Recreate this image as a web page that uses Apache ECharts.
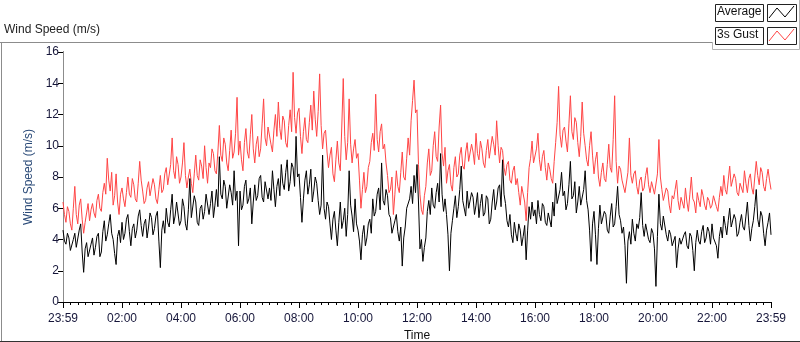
<!DOCTYPE html>
<html>
<head>
<meta charset="utf-8">
<script src="https://cdn.jsdelivr.net/npm/echarts@6/dist/echarts.min.js"></script>
<style>
  html, body { margin: 0; padding: 0; background: #fff; }
  #chart { width: 800px; height: 342px; }
</style>
</head>
<body>
<div id="chart"></div>
<script>
// samples every 3 minutes, from 23:59 to 23:59 next day (one row = one hour)
var stepMinutes = 3

// average wind speed (m/s)
var avgSpeed = [
  4.6, 3.9, 3.7, 4.4, 4.1, 3.3, 3.4, 4.0, 4.4, 3.5, 3.6, 4.6, 5.0, 3.2, 1.9, 3.4, 3.8, 2.9, 3.0, 3.7,
  4.1, 3.0, 3.5, 4.2, 4.4, 2.9, 3.2, 4.5, 5.2, 3.9, 4.3, 5.0, 5.6, 4.4, 4.0, 3.1, 2.4, 4.2, 4.6, 3.8,
  5.1, 4.0, 4.4, 5.3, 5.6, 4.5, 3.6, 4.7, 5.0, 4.1, 4.6, 5.5, 5.9, 4.9, 4.2, 5.0, 5.3, 4.1, 4.8, 5.7,
  5.4, 4.3, 4.7, 5.5, 5.8, 3.9, 2.2, 4.6, 5.2, 4.4, 6.0, 5.1, 4.8, 5.9, 6.9, 5.0, 5.5, 6.4, 6.3, 4.9,
  5.2, 6.6, 6.1, 5.0, 4.6, 5.9, 7.9, 5.4, 5.5, 6.8, 6.4, 5.1, 4.9, 6.0, 6.2, 5.3, 5.8, 6.9, 7.0, 5.6,
  6.3, 7.1, 5.4, 6.2, 7.2, 6.1, 9.3, 6.9, 6.6, 7.8, 7.4, 6.0, 5.9, 7.5, 7.0, 6.2, 8.4, 6.5, 7.1, 3.6,
  7.1, 5.9, 6.2, 7.4, 7.8, 6.3, 6.6, 7.3, 5.0, 6.4, 7.5, 6.5, 6.8, 7.9, 8.1, 6.7, 6.4, 7.7, 7.6, 6.6,
  7.3, 6.5, 8.4, 7.2, 6.1, 7.4, 7.9, 6.8, 8.8, 7.6, 7.2, 8.3, 9.1, 7.1, 7.7, 8.9, 8.6, 7.4, 10.6, 8.0,
  8.2, 6.7, 5.1, 6.6, 7.8, 8.4, 6.9, 7.5, 8.5, 6.4, 7.1, 8.0, 7.6, 6.5, 5.6, 6.2, 9.4, 6.0, 5.3, 6.4,
  6.1, 5.0, 4.0, 5.3, 5.8, 4.6, 3.6, 5.1, 6.4, 4.7, 5.2, 6.0, 4.2, 5.6, 8.4, 6.2, 5.5, 4.5, 6.6, 5.0,
  4.6, 3.9, 2.7, 4.3, 4.9, 3.6, 4.1, 5.0, 5.3, 4.4, 6.6, 5.5, 5.8, 6.9, 7.3, 5.9, 8.9, 6.5, 6.2, 7.2,
  6.8, 5.6, 5.4, 4.4, 4.3, 5.2, 5.6, 4.5, 3.9, 4.8, 2.3, 4.1, 4.8, 6.0, 5.9, 6.6, 7.4, 6.3, 8.1, 7.0,
  8.8, 6.4, 3.4, 4.0, 2.6, 3.5, 4.1, 5.8, 6.5, 5.6, 7.3, 6.2, 6.0, 7.0, 7.6, 6.4, 9.5, 6.9, 5.8, 6.6,
  5.6, 4.3, 2.0, 4.4, 5.2, 6.0, 6.8, 5.4, 6.1, 7.2, 8.7, 6.5, 6.4, 5.5, 7.1, 6.0, 5.9, 7.0, 6.7, 5.6,
  6.2, 7.0, 5.4, 6.3, 6.9, 5.5, 5.7, 6.8, 6.6, 5.0, 5.3, 6.4, 7.2, 5.9, 6.4, 7.3, 7.5, 6.1, 9.1, 6.9,
  6.3, 5.2, 4.8, 5.6, 4.3, 3.8, 5.1, 4.4, 3.9, 5.0, 4.6, 3.6, 4.2, 4.9, 2.7, 4.6, 6.1, 5.3, 6.4, 5.5,
  5.9, 5.0, 6.5, 5.6, 5.2, 6.3, 6.1, 5.1, 4.9, 5.7, 5.8, 4.8, 6.4, 5.5, 7.6, 6.3, 6.2, 7.2, 8.3, 6.8,
  7.1, 5.9, 6.3, 7.5, 9.0, 6.6, 6.8, 7.7, 5.7, 6.4, 7.4, 6.2, 6.1, 7.2, 8.4, 6.5, 5.9, 4.6, 2.6, 5.0,
  5.8, 4.3, 2.4, 4.7, 6.2, 5.0, 4.9, 5.8, 5.6, 4.6, 4.4, 5.5, 6.3, 4.8, 5.0, 6.1, 7.4, 5.6, 5.2, 4.4,
  4.8, 3.6, 1.2, 3.9, 4.5, 3.7, 5.3, 4.4, 3.9, 5.0, 4.7, 5.4, 7.0, 4.9, 4.2, 5.0, 5.1, 4.0, 3.8, 4.7,
  4.4, 3.4, 1.0, 4.2, 6.9, 5.0, 4.6, 5.5, 5.4, 4.3, 3.9, 4.6, 4.3, 3.6, 3.5, 4.2, 2.2, 3.4, 4.1, 3.7,
  3.8, 4.3, 4.5, 3.6, 3.4, 4.4, 4.2, 3.3, 2.0, 3.8, 4.6, 3.9, 3.7, 4.5, 4.9, 3.8, 4.1, 4.8, 4.5, 3.7,
  5.0, 4.1, 4.2, 3.6, 2.8, 4.2, 4.8, 4.1, 5.5, 4.9, 4.3, 5.2, 6.0, 4.8, 4.7, 5.6, 5.3, 4.2, 4.4, 5.1,
  5.6, 4.8, 4.6, 5.5, 6.4, 4.9, 3.9, 4.7, 5.2, 6.1, 7.2, 5.3, 4.8, 5.8, 5.5, 4.4, 3.6, 4.6, 5.1, 5.7,
  4.3
]

// 3 s gust (m/s)
var gustSpeed = [
  6.4, 5.6, 5.1, 6.1, 5.8, 5.0, 4.6, 6.0, 7.4, 5.6, 5.0, 6.2, 6.6, 5.3, 4.4, 5.1, 5.7, 6.3, 5.2, 5.9,
  6.3, 5.7, 5.4, 6.5, 6.9, 6.0, 5.8, 7.0, 7.6, 6.9, 9.2, 7.8, 7.1, 8.3, 6.2, 6.8, 8.2, 6.4, 5.6, 6.9,
  7.3, 6.6, 6.1, 7.0, 8.0, 6.9, 6.7, 7.9, 7.5, 6.6, 6.4, 7.6, 9.0, 7.8, 7.1, 6.3, 6.5, 7.3, 7.7, 6.8,
  6.8, 7.9, 7.5, 6.6, 6.3, 7.2, 8.1, 7.0, 7.2, 8.2, 8.6, 7.5, 7.4, 8.8, 10.5, 8.4, 7.9, 9.3, 8.8, 7.6,
  8.0, 8.9, 10.2, 8.1, 7.3, 8.0, 8.5, 7.6, 7.0, 8.2, 9.4, 8.1, 7.8, 9.1, 8.7, 7.9, 10.0, 8.6, 7.6, 8.9,
  8.6, 9.8, 9.5, 8.4, 8.2, 9.6, 11.3, 9.4, 9.0, 10.5, 10.1, 8.9, 8.4, 9.7, 11.0, 9.2, 9.6, 10.8, 13.1, 9.4,
  10.3, 9.1, 8.4, 10.2, 11.1, 9.6, 9.2, 10.7, 12.0, 9.8, 8.9, 10.1, 10.6, 9.3, 9.8, 11.4, 13.0, 10.5, 10.0, 11.2,
  11.2, 10.1, 9.6, 11.0, 12.0, 10.6, 12.8, 11.1, 10.4, 11.9, 11.6, 10.2, 9.9, 11.3, 12.3, 10.9, 14.7, 11.8, 10.8, 12.1,
  12.4, 10.6, 9.5, 10.9, 11.8, 10.4, 10.2, 11.5, 12.6, 11.0, 13.5, 11.7, 10.6, 12.2, 14.6, 11.3, 9.8, 10.8, 11.0, 9.6,
  8.6, 9.4, 9.9, 8.2, 7.7, 9.1, 10.3, 8.9, 8.4, 11.2, 14.3, 10.6, 9.1, 10.2, 13.0, 10.1, 8.9, 9.8, 10.4, 9.2,
  9.5, 7.8, 6.0, 7.2, 8.3, 7.0, 7.4, 8.6, 9.0, 10.2, 10.8, 9.7, 13.3, 10.4, 9.6, 10.9, 11.4, 9.8, 10.1, 8.9,
  8.1, 7.0, 7.2, 8.0, 5.6, 6.9, 8.4, 7.4, 7.0, 8.3, 9.6, 8.0, 7.8, 9.2, 10.5, 9.4, 11.6, 12.9, 14.2, 12.1,
  12.3, 8.8, 6.9, 5.9, 5.6, 6.8, 7.4, 8.9, 9.8, 8.1, 8.4, 10.0, 10.9, 9.3, 9.0, 11.2, 12.6, 9.5, 8.7, 9.9,
  7.6, 8.4, 8.8, 7.5, 7.1, 8.6, 9.3, 8.0, 8.2, 9.4, 9.9, 8.7, 8.5, 9.6, 10.2, 9.0, 8.9, 10.1, 9.6, 8.8,
  10.8, 9.5, 9.1, 10.3, 9.8, 8.9, 8.6, 9.7, 10.4, 9.2, 9.3, 10.6, 10.1, 9.4, 11.6, 10.0, 8.9, 9.9, 9.7, 8.6,
  8.1, 8.8, 9.0, 7.8, 7.6, 8.4, 8.7, 7.5, 7.9, 7.0, 6.2, 7.4, 7.3, 6.4, 5.2, 7.0, 8.6, 9.2, 10.3, 8.9,
  9.0, 9.8, 10.8, 9.1, 8.4, 9.3, 9.7, 8.6, 7.8, 8.9, 8.5, 7.9, 7.6, 9.0, 10.2, 11.5, 13.8, 10.7, 9.9, 11.0,
  11.2, 10.3, 9.6, 11.4, 13.2, 10.9, 10.4, 11.8, 11.5, 10.2, 9.3, 10.6, 12.8, 10.8, 10.0, 9.1, 8.7, 10.0, 10.9, 9.4,
  8.2, 9.1, 9.6, 8.0, 7.4, 8.3, 8.9, 7.9, 7.7, 8.8, 10.1, 8.6, 8.3, 10.4, 13.2, 9.0, 7.6, 8.7, 8.5, 7.8,
  7.9, 7.0, 7.1, 8.3, 10.5, 8.1, 7.6, 8.2, 8.4, 7.4, 6.9, 7.8, 8.0, 7.1, 7.3, 8.1, 8.6, 7.5, 7.0, 7.7,
  7.6, 6.9, 6.8, 8.2, 10.4, 8.0, 7.2, 6.5, 6.4, 7.3, 7.1, 6.2, 5.7, 6.8, 6.6, 7.2, 7.8, 6.5, 5.9, 6.7,
  6.6, 6.0, 7.3, 6.4, 5.8, 6.9, 8.0, 6.6, 6.4, 5.7, 7.0, 6.5, 6.1, 7.2, 6.8, 6.2, 5.9, 6.7, 6.5, 6.0,
  6.2, 6.8, 6.9, 6.1, 5.8, 6.7, 7.4, 6.8, 8.1, 7.2, 6.9, 7.8, 8.7, 7.4, 7.3, 8.2, 7.9, 7.0, 6.8, 7.6,
  7.7, 7.0, 8.4, 7.6, 7.0, 7.9, 8.2, 7.3, 6.9, 8.0, 9.0, 8.1, 7.5, 8.6, 8.3, 7.4, 7.1, 7.9, 8.5, 7.8,
  7.2
]

var timeTicks = ['23:59', '02:00', '04:00', '06:00', '08:00', '10:00', '12:00',
  '14:00', '16:00', '18:00', '20:00', '22:00', '23:59']

function toPairs(values) {
  return values.map(function (v, i) { return [i * stepMinutes, v] })
}

var labelColor = '#16163a'
var font = 'Liberation Sans, Arial, sans-serif'

var chart = echarts.init(document.getElementById('chart'), null, { renderer: 'canvas' })

var option = {
  animation: false,
  backgroundColor: '#fff',
  grid: { left: 63, right: 29, top: 52, bottom: 40, containLabel: false, outerBoundsMode: 'none' },
  textStyle: { fontFamily: font },
  xAxis: [
    {
      type: 'value',
      min: 0,
      max: 1440,
      interval: 120,
      name: 'Time',
      nameLocation: 'middle',
      nameGap: 26,
      nameTextStyle: { color: '#111', fontSize: 12, fontFamily: font },
      axisLine: { show: true, lineStyle: { color: '#8c8c8c', width: 1 } },
      axisTick: { show: true, length: 6, lineStyle: { color: '#000' } },
      minorTick: { show: true, splitNumber: 8, length: 3, lineStyle: { color: '#000' } },
      axisLabel: {
        color: labelColor,
        fontSize: 12,
        fontFamily: font,
        margin: 11,
        formatter: function (v) { return timeTicks[Math.round(v / 120)] }
      },
      splitLine: { show: false }
    },
    {
      // top edge of the plot frame
      type: 'value', position: 'top', min: 0, max: 1440,
      axisLine: { show: true, lineStyle: { color: '#000', width: 1 } },
      axisTick: { show: false }, axisLabel: { show: false }, splitLine: { show: false }
    }
  ],
  yAxis: [
    {
      type: 'value',
      min: 0,
      max: 16,
      interval: 2,
      name: 'Wind Speed (m/s)',
      nameLocation: 'middle',
      nameGap: 20,
      nameTextStyle: { color: '#2a4a78', fontSize: 12, fontFamily: font },
      axisLine: { show: true, lineStyle: { color: '#000', width: 1 } },
      axisTick: { show: true, length: 5, lineStyle: { color: '#000' } },
      axisLabel: { color: labelColor, fontSize: 12, fontFamily: font, margin: 4 },
      splitLine: { show: false }
    },
    {
      // right edge of the plot frame
      type: 'value', position: 'right', min: 0, max: 16,
      axisLine: { show: true, lineStyle: { color: '#8c8c8c', width: 1 } },
      axisTick: { show: false }, axisLabel: { show: false }, splitLine: { show: false }
    }
  ],
  series: [
    {
      name: '3s Gust',
      type: 'line',
      data: toPairs(gustSpeed),
      symbol: 'none',
      lineStyle: { color: '#ff4545', width: 1 },
      itemStyle: { color: '#ff4545' }
    },
    {
      name: 'Average',
      type: 'line',
      data: toPairs(avgSpeed),
      symbol: 'none',
      lineStyle: { color: '#000', width: 1 },
      itemStyle: { color: '#000' }
    }
  ],
  graphic: [
    // outer panel frame
    { type: 'line', shape: { x1: 0, y1: 42.5, x2: 712, y2: 42.5 }, style: { stroke: '#8c8c8c', lineWidth: 1 } },
    { type: 'line', shape: { x1: 1.5, y1: 42, x2: 1.5, y2: 342 }, style: { stroke: '#8c8c8c', lineWidth: 1 } },
    { type: 'line', shape: { x1: 0, y1: 341.5, x2: 800, y2: 341.5 }, style: { stroke: '#333', lineWidth: 1 } },
    { type: 'polyline', shape: { points: [[712.5, 42], [712.5, 49.5], [799.5, 49.5], [799.5, 0]] }, style: { stroke: '#b4b4b4', fill: null, lineWidth: 1 } },
    // chart title
    { type: 'text', left: 4, top: 24, style: { text: 'Wind Speed (m/s)', font: '12px ' + font, fill: '#222' } },
    // legend boxes
    { type: 'rect', shape: { x: 715.5, y: 4.5, width: 48, height: 17 }, style: { stroke: '#222', fill: '#fff', lineWidth: 1 } },
    { type: 'rect', shape: { x: 767.5, y: 4.5, width: 29, height: 17 }, style: { stroke: '#222', fill: '#fff', lineWidth: 1 } },
    { type: 'rect', shape: { x: 715.5, y: 27.5, width: 48, height: 17 }, style: { stroke: '#222', fill: '#fff', lineWidth: 1 } },
    { type: 'rect', shape: { x: 767.5, y: 27.5, width: 29, height: 17 }, style: { stroke: '#222', fill: '#fff', lineWidth: 1 } },
    { type: 'text', x: 717, y: 6, style: { text: 'Average', font: '12px ' + font, fill: '#111' } },
    { type: 'text', x: 717, y: 29, style: { text: '3s Gust', font: '12px ' + font, fill: '#111' } },
    { type: 'polyline', shape: { points: [[769, 18], [777, 8], [785, 17], [794, 6]] }, style: { stroke: '#000', fill: null, lineWidth: 1 } },
    { type: 'polyline', shape: { points: [[769, 41], [777, 31], [785, 40], [794, 29]] }, style: { stroke: '#ff4545', fill: null, lineWidth: 1 } }
  ]
}

chart.setOption(option, true)
</script>
</body>
</html>
